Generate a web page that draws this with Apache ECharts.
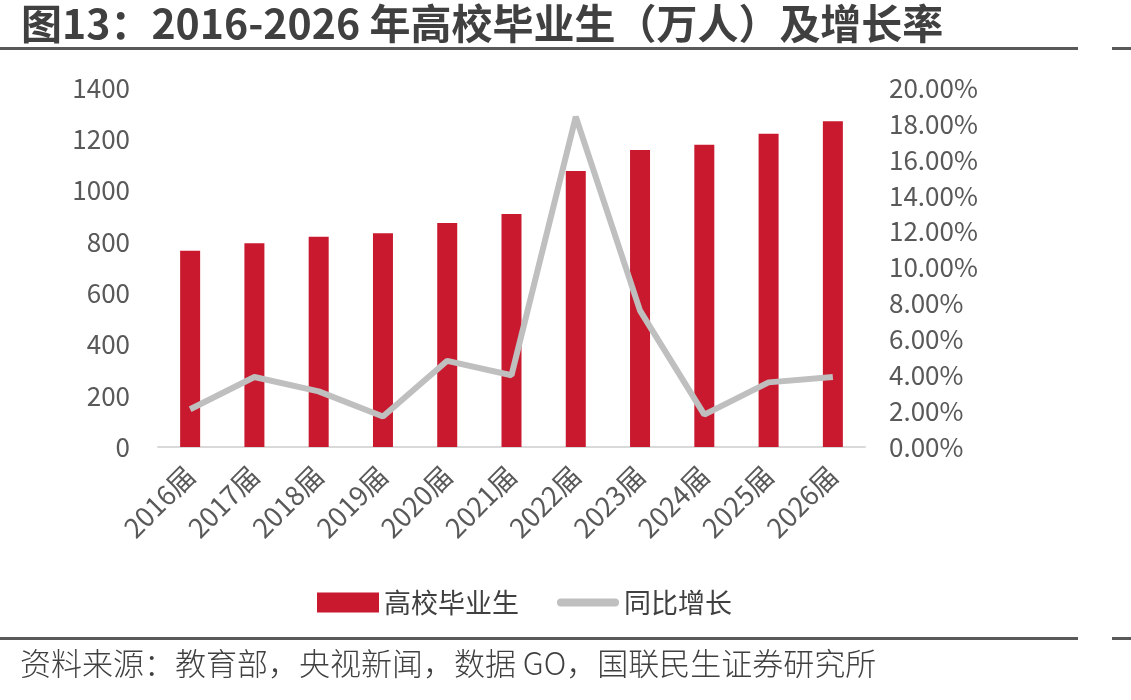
<!DOCTYPE html>
<html>
<head>
<meta charset="utf-8">
<script src="https://cdn.jsdelivr.net/npm/echarts@6/dist/echarts.min.js"></script>
<style>
html,body{margin:0;padding:0;background:#fff;}
#main{width:1131px;height:700px;}
</style>
</head>
<body>
<div id="main"></div>
<script>
// 数据
var years = ['2016届','2017届','2018届','2019届','2020届','2021届','2022届','2023届','2024届','2025届','2026届'];
var graduates = [765, 795, 820, 834, 874, 909, 1076, 1158, 1179, 1222, 1270];
var growth = [2.1, 3.9, 3.1, 1.7, 4.8, 4.0, 18.4, 7.6, 1.8, 3.6, 3.9];

var font = '"Noto Sans CJK SC", "Open Sans", sans-serif';
var myChart = echarts.init(document.getElementById('main'));
var option = {
    textStyle: {fontFamily: font},
    title: {
        text: '图13：2016-2026 年高校毕业生（万人）及增长率',
        left: 16,
        top: -2,
        textStyle: {fontSize: 41, fontWeight: 'bold', color: '#404040', fontFamily: font}
    },
    graphic: [
        {type: 'rect', shape: {x: 0, y: 47, width: 1078, height: 3}, style: {fill: '#595959'}},
        {type: 'rect', shape: {x: 1112, y: 47, width: 19, height: 3}, style: {fill: '#595959'}},
        {type: 'rect', shape: {x: 0, y: 637, width: 1078, height: 3}, style: {fill: '#595959'}},
        {type: 'rect', shape: {x: 1112, y: 637, width: 19, height: 3}, style: {fill: '#595959'}},
        {type: 'text', left: 20, top: 648, style: {text: '资料来源：教育部，央视新闻，数据 GO，国联民生证券研究所', fontSize: 31, fontWeight: 300, fill: '#404040', fontFamily: font}}
    ],
    legend: {
        top: 584,
        left: 312,
        itemGap: 38,
        itemWidth: 62,
        itemHeight: 20,
        textStyle: {fontSize: 27, color: '#404040', fontFamily: font},
        data: [
            {name: '高校毕业生', icon: 'rect'},
            {name: '同比增长', icon: 'path://M0,0 L0,0 M4,6 L58,6 A4,4 0 0 1 58,14 L4,14 A4,4 0 0 1 4,6 Z M62,20 L62,20', itemStyle: {color: '#bfbfbf'}}
        ]
    },
    grid: {left: 158, right: 266, top: 88, bottom: 253},
    xAxis: {
        type: 'category',
        data: years,
        axisLine: {lineStyle: {color: '#d9d9d9', width: 2}},
        axisTick: {show: false},
        axisLabel: {rotate: 45, fontSize: 27, color: '#595959', margin: 24, interval: 0}
    },
    yAxis: [
        {
            type: 'value', min: 0, max: 1400, interval: 200,
            splitLine: {show: false},
            axisLine: {show: false},
            axisLabel: {fontSize: 26, color: '#595959', margin: 28, formatter: function (v) { return String(v); }}
        },
        {
            type: 'value', min: 0, max: 20, interval: 2,
            splitLine: {show: false},
            axisLine: {show: false},
            axisLabel: {fontSize: 26, color: '#595959', margin: 24, formatter: function (v) { return v.toFixed(2) + '%'; }}
        }
    ],
    series: [
        {
            name: '高校毕业生',
            type: 'bar',
            data: graduates,
            barWidth: 20,
            itemStyle: {color: '#c8192e'}
        },
        {
            name: '同比增长',
            type: 'line',
            yAxisIndex: 1,
            data: growth,
            symbol: 'none',
            lineStyle: {color: '#bfbfbf', width: 6},
            itemStyle: {color: '#bfbfbf'}
        }
    ]
};
myChart.setOption(option);
</script>
</body>
</html>
